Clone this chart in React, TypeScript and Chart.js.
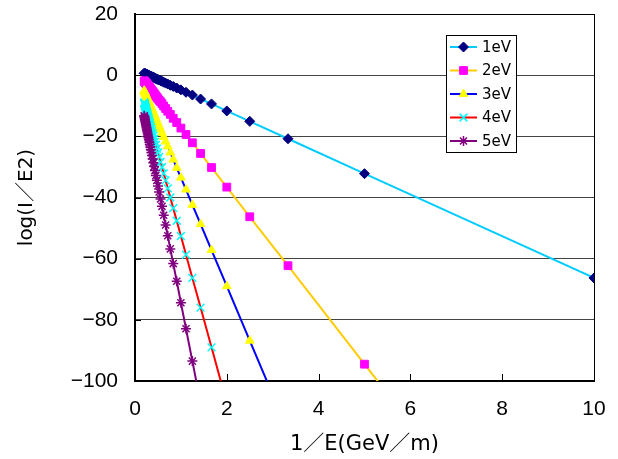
import { useEffect, useRef } from 'react';
import { Chart, registerables } from 'chart.js';
import { drawPoint } from 'chart.js/helpers';

Chart.register(...registerables);

// 1/E values (GeV/m)^-1
const invE = [
  10, 5, 3.333, 2.5, 2, 1.667, 1.429, 1.25, 1.111, 1,
  0.909, 0.833, 0.769, 0.714, 0.667, 0.625, 0.588, 0.556, 0.526, 0.5,
  0.476, 0.455, 0.435, 0.417, 0.4, 0.385, 0.37, 0.357, 0.345, 0.333,
  0.323, 0.313, 0.303, 0.294, 0.286, 0.278, 0.27, 0.263, 0.256, 0.25,
  0.244, 0.238, 0.233, 0.227, 0.222, 0.217, 0.213, 0.208, 0.204, 0.2,
];

const s1eV = [
  -66.3, -32.2, -20.8, -15.1, -11.7, -9.4, -7.8, -6.5, -5.6, -4.8,
  -4.2, -3.7, -3.3, -2.9, -2.6, -2.3, -2.0, -1.8, -1.6, -1.4,
  -1.3, -1.1, -1.0, -0.8, -0.7, -0.6, -0.5, -0.4, -0.4, -0.3,
  -0.2, -0.1, -0.1, 0.0, 0.0, 0.1, 0.2, 0.2, 0.3, 0.3,
  0.3, 0.4, 0.4, 0.4, 0.5, 0.5, 0.5, 0.6, 0.6, 0.6,
];

const s2eV = [
  -191, -94.5, -62.3, -46.3, -36.6, -30.2, -25.6, -22.1, -19.4, -17.3,
  -15.5, -14.1, -12.8, -11.8, -10.9, -10.1, -9.3, -8.7, -8.2, -7.7,
  -7.2, -6.8, -6.4, -6.0, -5.7, -5.4, -5.1, -4.9, -4.7, -4.4,
  -4.2, -4.0, -3.8, -3.7, -3.5, -3.4, -3.2, -3.1, -2.9, -2.8,
  -2.7, -2.6, -2.5, -2.4, -2.3, -2.2, -2.1, -2.0, -1.9, -1.9,
];

const s3eV = [
  -353, -175.5, -116.3, -86.8, -69, -57.2, -48.7, -42.4, -37.4, -33.5,
  -30.3, -27.6, -25.3, -23.3, -21.7, -20.2, -18.9, -17.7, -16.7, -15.8,
  -14.9, -14.2, -13.4, -12.8, -12.2, -11.7, -11.1, -10.7, -10.2, -9.8,
  -9.5, -9.1, -8.8, -8.4, -8.2, -7.9, -7.6, -7.3, -7.1, -6.9,
  -6.7, -6.4, -6.3, -6.1, -5.9, -5.7, -5.6, -5.4, -5.2, -5.1,
];

const s4eV = [
  -544, -271, -180, -134.5, -107.2, -89, -76, -66.3, -58.7, -52.6,
  -47.6, -43.5, -40, -37, -34.4, -32.1, -30.1, -28.4, -26.7, -25.3,
  -24, -22.8, -21.8, -20.8, -19.8, -19, -18.2, -17.5, -16.8, -16.2,
  -15.6, -15.1, -14.5, -14.1, -13.6, -13.2, -12.7, -12.4, -12, -11.7,
  -11.3, -11, -10.7, -10.4, -10.1, -9.8, -9.6, -9.4, -9.1, -8.9,
];

const s5eV = [
  -762, -380, -252.6, -189, -150.8, -125.4, -107.2, -93.5, -82.9, -74.4,
  -67.4, -61.6, -56.8, -52.5, -49, -45.8, -42.9, -40.5, -38.2, -36.2,
  -34.4, -32.8, -31.2, -29.9, -28.6, -27.4, -26.3, -25.3, -24.4, -23.5,
  -22.7, -21.9, -21.1, -20.5, -19.9, -19.2, -18.6, -18.1, -17.6, -17.1,
  -16.6, -16.2, -15.8, -15.3, -15, -14.6, -14.3, -13.9, -13.6, -13.3,
];

const seriesLabels = ['1eV', '2eV', '3eV', '4eV', '5eV'];
const seriesValues = [s1eV, s2eV, s3eV, s4eV, s5eV];
const xTicks = [0, 2, 4, 6, 8, 10];
const yTicks = [-100, -80, -60, -40, -20, 0, 20];

const xTitle = '1／E(GeV／m)';
const yTitle = 'log(I／E2)';

const styles = [
  { line: '#00CCFF', marker: '#000080', shape: 'rectRot', radius: 5, bw: 1 },
  { line: '#FFCC00', marker: '#FF00FF', shape: 'rect', radius: 5.5, bw: 1 },
  { line: '#0000FF', marker: '#FFFF00', shape: 'triangle', radius: 5, bw: 1 },
  { line: '#FF0000', marker: '#00FFFF', shape: 'crossRot', radius: 5.5, bw: 1.5 },
  { line: '#800080', marker: '#800080', shape: 'star', radius: 5, bw: 1.5 },
];

const TICK_FONT = '"Liberation Sans", Arial, sans-serif';
const TITLE_FONT = '"DejaVu Sans", "Noto Sans CJK JP", sans-serif';

const framePlugin = {
  id: 'frameAndLegend',
  afterDraw(chart: any) {
    const { ctx, chartArea: a, scales } = chart;
    ctx.save();
    // frame
    ctx.strokeStyle = '#000';
    ctx.lineWidth = 1;
    ctx.strokeRect(Math.round(a.left) + 0.5, Math.round(a.top) + 0.5, Math.round(a.right - a.left), Math.round(a.bottom - a.top));
    // inward ticks
    ctx.beginPath();
    for (const v of xTicks) {
      const px = Math.round(scales.x.getPixelForValue(v)) + 0.5;
      ctx.moveTo(px, a.bottom);
      ctx.lineTo(px, a.bottom - 7);
    }
    for (const v of yTicks) {
      const py = Math.round(scales.y.getPixelForValue(v)) + 0.5;
      ctx.moveTo(a.left, py);
      ctx.lineTo(a.left + 6, py);
    }
    ctx.stroke();

    // legend
    const lx = 446, ly = 35, lw = 70, lh = 117;
    ctx.fillStyle = '#fff';
    ctx.fillRect(lx, ly, lw, lh);
    ctx.strokeStyle = '#000';
    ctx.lineWidth = 1;
    ctx.strokeRect(lx + 0.5, ly + 0.5, lw, lh);
    chart.data.datasets.forEach((ds: any, i: number) => {
      const y = ly + 12 + i * 23.5;
      ctx.strokeStyle = ds.borderColor;
      ctx.lineWidth = 2;
      ctx.beginPath();
      ctx.moveTo(lx + 4, y);
      ctx.lineTo(lx + 31, y);
      ctx.stroke();
      ctx.fillStyle = ds.pointBackgroundColor;
      ctx.strokeStyle = ds.pointBorderColor;
      ctx.lineWidth = ds.pointBorderWidth;
      drawPoint(ctx, { pointStyle: ds.pointStyle, radius: ds.pointRadius, borderWidth: ds.pointBorderWidth, rotation: 0 } as any, lx + 17.5, y);
      ctx.fillStyle = '#000';
      ctx.font = '15px "DejaVu Sans", sans-serif';
      ctx.textAlign = 'left';
      ctx.textBaseline = 'middle';
      ctx.fillText(ds.label, lx + 36, y + 1);
    });
    ctx.restore();
  },
};

export default function App() {
  const ref = useRef<HTMLCanvasElement | null>(null);

  useEffect(() => {
    document.body.style.margin = '0';
    const canvas = ref.current;
    if (!canvas) return;
    const datasets = seriesLabels.map((label, i) => ({
      label,
      data: invE.map((x, j) => ({ x, y: seriesValues[i][j] })),
      borderColor: styles[i].line,
      borderWidth: 2,
      pointStyle: styles[i].shape,
      pointRadius: styles[i].radius,
      pointBackgroundColor: styles[i].marker,
      pointBorderColor: styles[i].marker,
      pointBorderWidth: styles[i].bw,
      showLine: true,
      fill: false,
      tension: 0,
      order: seriesLabels.length - i,
    }));

    const chart = new Chart(canvas, {
      type: 'scatter',
      data: { datasets } as any,
      plugins: [framePlugin],
      options: {
        animation: false,
        responsive: false,
        devicePixelRatio: 1,
        layout: { padding: { left: 0, right: 24, top: 14, bottom: 0 } },
        plugins: {
          legend: { display: false },
          tooltip: { enabled: false },
        },
        scales: {
          x: {
            type: 'linear',
            min: 0,
            max: 10,
            afterBuildTicks: (s: any) => {
              s.ticks = xTicks.map((v) => ({ value: v }));
            },
            afterFit: (s: any) => {
              s.height = 78;
              s.paddingLeft = 0;
              s.paddingRight = 0;
            },
            grid: { display: false, drawTicks: false },
            border: { display: true, color: '#000', width: 2 },
            ticks: {
              padding: 16,
              color: '#000',
              maxRotation: 0,
              autoSkip: false,
              font: { family: TICK_FONT, size: 21 },
            },
            title: {
              display: true,
              text: xTitle,
              color: '#000',
              font: { family: TITLE_FONT, size: 21 },
              padding: { top: 0, bottom: 2 },
            },
          },
          y: {
            type: 'linear',
            min: -100,
            max: 20,
            afterBuildTicks: (s: any) => {
              s.ticks = yTicks.map((v) => ({ value: v }));
            },
            afterFit: (s: any) => {
              s.width = 135;
              s.paddingTop = 0;
              s.paddingBottom = 0;
            },
            grid: { color: '#444', lineWidth: 1, drawTicks: false },
            border: { display: true, color: '#000', width: 2 },
            ticks: {
              padding: 17,
              color: '#000',
              autoSkip: false,
              font: { family: TICK_FONT, size: 21 },
              callback: (v: any) => String(v).replace('-', '\u2212'),
            },
            title: {
              display: true,
              text: yTitle,
              color: '#000',
              font: { family: TITLE_FONT, size: 20 },
              padding: { top: 15, bottom: 0 },
            },
          },
        },
      } as any,
    });
    return () => chart.destroy();
  }, []);

  return (
    <div style={{ width: 618, height: 459, position: 'relative', background: '#fff' }}>
      <canvas ref={ref} width={618} height={459} />
    </div>
  );
}
